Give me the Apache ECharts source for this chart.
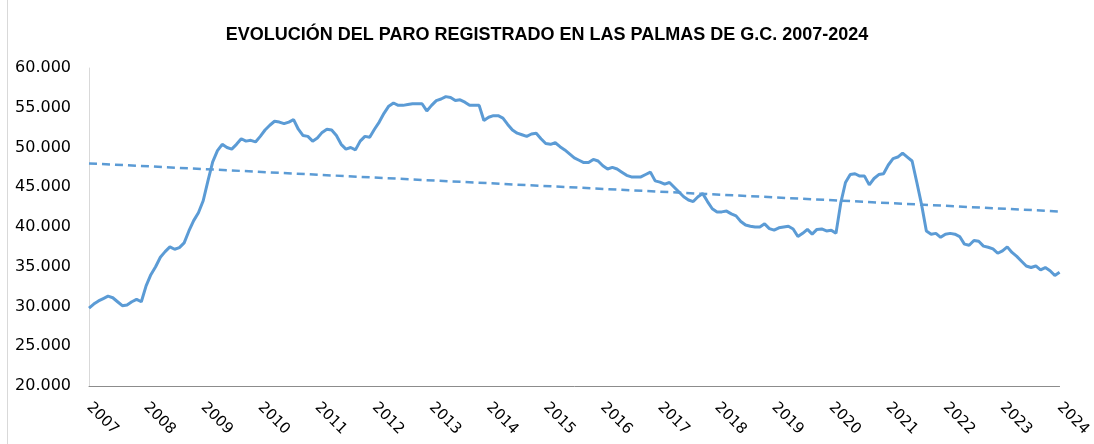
<!DOCTYPE html>
<html>
<head>
<meta charset="utf-8">
<title>Evolución del paro registrado</title>
<script src="https://cdn.jsdelivr.net/npm/echarts@6/dist/echarts.min.js"></script>
<style>
  html, body { margin: 0; padding: 0; background: #fff; }
  #chart { width: 1094px; height: 444px; }
</style>
</head>
<body>
<div id="chart"></div>
<script>
// años del eje X (una etiqueta por enero)
const years = [2007, 2008, 2009, 2010, 2011, 2012, 2013, 2014, 2015, 2016,
  2017, 2018, 2019, 2020, 2021, 2022, 2023, 2024];

// paro registrado mensual, ene-2007 .. ene-2024
const paro = [
  29800, 30300, 30700, 31000, 31300, 31100, 30600, 30100, 30200, 30600, 30900, 30600,
  32600, 34000, 35000, 36200, 36900, 37500, 37200, 37400, 38000, 39500, 40800, 41800,
  43300, 45800, 48200, 49600, 50400, 50000, 49800, 50400, 51100, 50800, 50900, 50700,
  51400, 52200, 52800, 53300, 53200, 53000, 53200, 53500, 52300, 51500, 51400, 50800,
  51200, 51900, 52300, 52200, 51500, 50400, 49800, 50000, 49700, 50800, 51400, 51300,
  52300, 53200, 54300, 55200, 55600, 55300, 55300, 55400, 55500, 55500, 55500, 54600,
  55300, 55900, 56100, 56400, 56300, 55900, 56000, 55700, 55300, 55300, 55300, 53400,
  53800, 54000, 54000, 53700, 52900, 52200, 51800, 51600, 51400, 51700, 51800, 51100,
  50500, 50400, 50600, 50100, 49700, 49200, 48700, 48400, 48100, 48100, 48500, 48300,
  47700, 47300, 47500, 47300, 46900, 46500, 46300, 46300, 46300, 46600, 46900, 45800,
  45650, 45400, 45600, 45000, 44400, 43800, 43400, 43200, 43800, 44200, 43200, 42300,
  41900, 41900, 42000, 41650, 41400, 40700, 40250, 40100, 40000, 40000, 40400, 39800,
  39600, 39900, 40000, 40100, 39750, 38800, 39200, 39700, 39100, 39700, 39750, 39500,
  39600, 39200, 43000, 45600, 46600, 46700, 46400, 46400, 45300, 46100, 46600, 46700,
  47800, 48600, 48800, 49300, 48800, 48300, 45600, 42800, 39500, 39100, 39200, 38700,
  39100, 39200, 39100, 38800, 37850, 37700, 38300, 38200, 37600, 37450, 37250, 36700,
  37000, 37500, 36800, 36300, 35700, 35100, 34900, 35100, 34600, 34900, 34500, 33900,
  34300
];

// línea de tendencia (valor al inicio y al final)
const tendencia = [48000, 41950];

const meses = [];
years.forEach(y => {
  for (let m = 1; m <= 12; m++) {
    if (meses.length < paro.length) meses.push(y + '-' + (m < 10 ? '0' + m : m));
  }
});

const fmtMiles = v => String(v).replace(/\B(?=(\d{3})+(?!\d))/g, '.');

const chart = echarts.init(document.getElementById('chart'));
chart.setOption({
  animation: false,
  title: {
    text: 'EVOLUCIÓN DEL PARO REGISTRADO EN LAS PALMAS DE G.C. 2007-2024',
    left: 'center',
    top: 21,
    textStyle: { fontFamily: 'Liberation Sans', fontSize: 18, fontWeight: 'bold', color: '#000' }
  },
  grid: { left: 89, right: 34, top: 68, bottom: 58 },
  xAxis: {
    type: 'category',
    boundaryGap: false,
    data: meses,
    axisLine: { lineStyle: { color: '#8c8c8c', width: 1 } },
    axisTick: { show: false },
    axisLabel: {
      interval: 11,
      rotate: -45,
      margin: 19,
      fontFamily: 'DejaVu Sans',
      fontSize: 15,
      color: '#000',
      formatter: v => v.slice(0, 4)
    },
    splitLine: { show: false }
  },
  yAxis: {
    type: 'value',
    min: 20000,
    max: 60000,
    interval: 5000,
    axisLine: { show: true, lineStyle: { color: '#d9d9d9' } },
    axisTick: { show: false },
    splitLine: { show: false },
    axisLabel: {
      margin: 18,
      fontFamily: 'DejaVu Sans',
      fontSize: 16,
      color: '#000',
      formatter: fmtMiles
    }
  },
  series: [{
    name: 'Paro registrado',
    type: 'line',
    data: paro,
    symbol: 'none',
    lineStyle: { color: '#5b9bd5', width: 3 },
    markLine: {
      silent: true,
      symbol: ['none', 'none'],
      label: { show: false },
      lineStyle: { color: '#5b9bd5', width: 2.5, type: [8, 5] },
      data: [[
        { coord: [meses[0], tendencia[0]] },
        { coord: [meses[meses.length - 1], tendencia[1]] }
      ]]
    }
  }],
  graphic: [{
    type: 'line',
    shape: { x1: 7.5, y1: 0, x2: 7.5, y2: 444 },
    style: { stroke: '#d9d9d9', lineWidth: 1 }
  }]
});
</script>
</body>
</html>
